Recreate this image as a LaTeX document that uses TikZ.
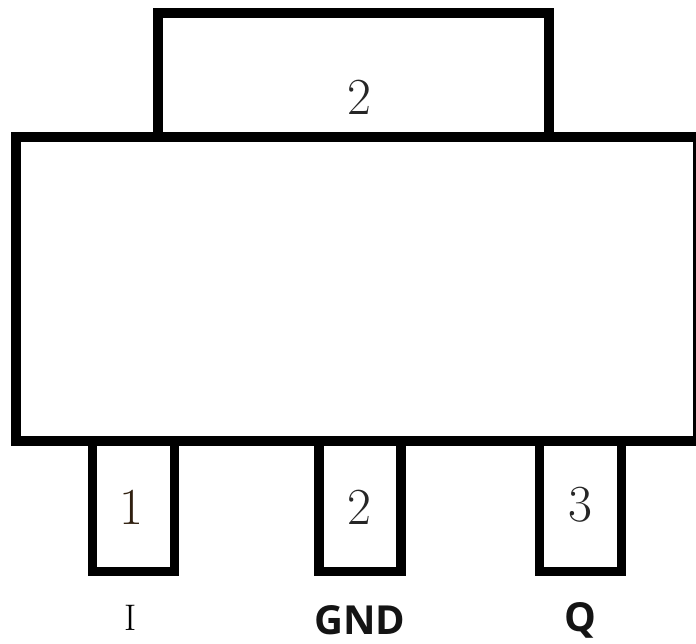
\documentclass[tikz,border=0pt]{standalone}
\usepackage{fontspec}
\newfontfamily\labsans{Open Sans}
\tikzset{outline/.style={draw=black,line width=9.4pt,miter limit=10},
num/.style={font=\fontsize{52pt}{52pt}\selectfont,text=black!85,inner sep=0pt},
lab/.style={font=\labsans\bfseries\fontsize{40pt}{40pt}\selectfont,text=black!92,inner sep=0pt}}
\begin{document}
\begin{tikzpicture}[x=1pt,y=-1pt]
\useasboundingbox (0,0) rectangle (696,643);
\coordinate (bl) at (158,137);\coordinate (tl) at (158,13);\coordinate (tr) at (549,13);\coordinate (br) at (549,137);
\draw[outline] (bl)--(tl)--(tr)--(br);
\node[outline,outer sep=0pt,minimum width=682pt,minimum height=304pt,inner sep=0pt,anchor=north west] (body) at (16,137) {};
\coordinate (a1) at (92.5,441);\coordinate (a2) at (92.5,571.5);\coordinate (a3) at (174.5,571.5);\coordinate (a4) at (174.5,441);
\draw[outline] (a1)--(a2)--(a3)--(a4);
\coordinate (b1) at (319,441);\coordinate (b2) at (319,571.5);\coordinate (b3) at (401,571.5);\coordinate (b4) at (401,441);
\draw[outline] (b1)--(b2)--(b3)--(b4);
\coordinate (c1) at (539.5,441);\coordinate (c2) at (539.5,571.5);\coordinate (c3) at (621.5,571.5);\coordinate (c4) at (621.5,441);
\draw[outline] (c1)--(c2)--(c3)--(c4);
\node[num] (n0) at (359,97) {2};
\node[num,text=black!75!brown] (n1) at (131,507) {1};
\node[num] (n2) at (359,507) {2};
\node[num] (n3) at (580,505) {3};
\node[inner sep=0pt,font=\fontsize{37pt}{37pt}\selectfont] (li) at (131,618) {I};
\node[lab] (lg) at (360,620) {GND};
\node[lab] (lq) at (580,620) {Q};
\end{tikzpicture}
\end{document}
